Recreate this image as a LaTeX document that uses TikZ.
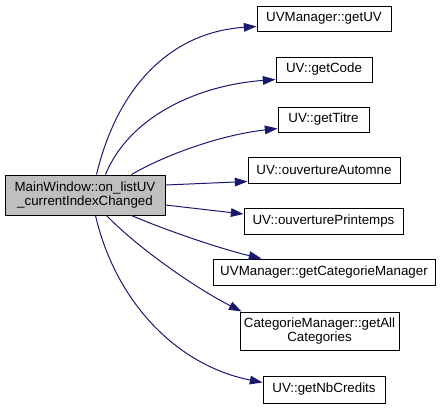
\documentclass[tikz,border=0pt]{standalone}
\usepackage{fontspec}
\setmainfont{Liberation Sans}
\usetikzlibrary{arrows.meta,calc}
\definecolor{edgeblue}{HTML}{191970}
\definecolor{mainfill}{HTML}{BFBFBF}
\begin{document}
\begin{tikzpicture}[x=0.75pt,y=-0.75pt,
 fn/.style={draw=black, line width=0.75pt, inner sep=0pt, minimum height=18.75pt, align=center, font=\fontsize{10pt}{11pt}\selectfont},
 edge/.style={draw=edgeblue, line width=0.75pt, -{Triangle[length=9.5pt,width=6.5pt]}},
]
\useasboundingbox (0,0) rectangle (440,408);
\node[fn, fill=mainfill, minimum width=120pt, minimum height=30pt] (main) at (85,195) {MainWindow::on\_listUV\\\_currentIndexChanged};
\node[fn, minimum width=100.5pt] (getUV) at (324,18.5) {UVManager::getUV};
\node[fn, minimum width=72pt] (getCode) at (324,69.5) {UV::getCode};
\node[fn, minimum width=68.25pt] (getTitre) at (323.5,119.5) {UV::getTitre};
\node[fn, minimum width=114pt, minimum height=19.5pt] (oA) at (324,170) {UV::ouvertureAutomne};
\node[fn, minimum width=119.25pt, minimum height=19.5pt] (oP) at (323.5,221) {UV::ouverturePrintemps};
\node[fn, minimum width=166.5pt, minimum height=19.5pt] (gCM) at (324,272) {UVManager::getCategorieManager};
\node[fn, minimum width=119.25pt, minimum height=28.5pt] (gAC) at (319.5,331) {CategorieManager::getAll\\Categories};
\node[fn, minimum width=91.5pt, minimum height=20.25pt] (gNC) at (324,389.5) {UV::getNbCredits};

\draw[edge] ($(main.north west)+(92,0)$) .. controls (118,85) and (172,32) .. ($(getUV.south west)+(0,-5)$);
\draw[edge] ($(main.north west)+(101,0)$) .. controls (130,115) and (200,85) .. ($(getCode.south west)+(0,-3)$);
\draw[edge] ($(main.north west)+(127,0)$) .. controls (165,155) and (220,135) .. ($(getTitre.south west)+(0,-4)$);
\draw[edge] ($(main.east)+(0,-10)$) -- ($(oA.south west)+(0,-2)$);
\draw[edge] ($(main.east)+(0,10)$) -- ($(oP.west)+(0,-7)$);
\draw[edge] ($(main.south west)+(127,0)$) .. controls (170,232) and (225,250) .. ($(gCM.north west)+(49,0)$);
\draw[edge] ($(main.south west)+(102,0)$) .. controls (135,245) and (190,285) .. ($(gAC.north west)+(2,0)$);
\draw[edge] ($(main.south west)+(91,0)$) .. controls (115,300) and (175,365) .. ($(gNC.north west)+(0,7)$);
\end{tikzpicture}
\end{document}
